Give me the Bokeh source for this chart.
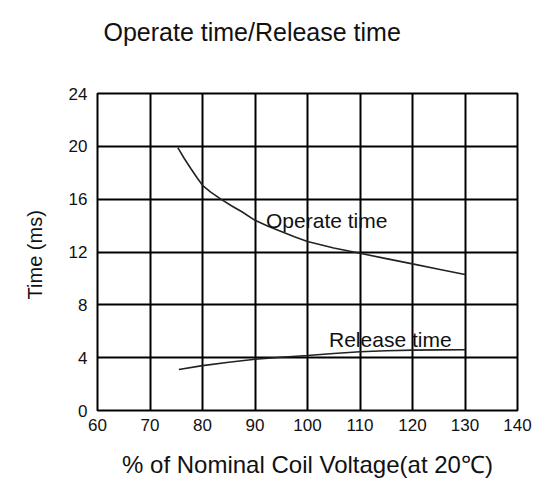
from bokeh.plotting import figure
from bokeh.embed import file_html
from bokeh.resources import INLINE
from bokeh.models import Range1d, FixedTicker, Label, Title

# ---- data ----
title_text = "Operate time/Release time"
x_label = "% of Nominal Coil Voltage(at 20\u2103)"
y_label = "Time  (ms)"
x_ticks = [60, 70, 80, 90, 100, 110, 120, 130, 140]
y_ticks = [0, 4, 8, 12, 16, 20, 24]

operate_x = [75.3, 76.5, 77.8, 79, 80, 81.5, 83.5, 85.5, 87.5, 90, 92.5, 95, 97.5,
             100, 105, 110, 115, 120, 125, 130]
operate_y = [19.9, 19.1, 18.3, 17.6, 17.05, 16.55, 16.0, 15.5, 15.05, 14.4, 13.95, 13.55, 13.15,
             12.8, 12.3, 11.9, 11.5, 11.1, 10.7, 10.3]

release_x = [75.5, 80, 85, 90, 95, 100, 105, 110, 115, 120, 125, 130]
release_y = [3.1, 3.4, 3.65, 3.88, 4.03, 4.16, 4.32, 4.45, 4.52, 4.57, 4.59, 4.6]

operate_label = ("Operate time", 92.1, 14.4)
release_label = ("Release time", 104.1, 5.37)

FONT = "Liberation Sans"
INK = "#111111"

p = figure(width=536, height=482, output_backend="svg", toolbar_location=None,
           x_range=Range1d(60, 140), y_range=Range1d(0, 24),
           min_border_left=97, min_border_right=19, min_border_top=93, min_border_bottom=72)

# real title (outermost)
p.title.text = title_text
p.title.text_font = FONT
p.title.text_font_size = "25px"
p.title.text_font_style = "normal"
p.title.text_color = INK
p.title.align = "left"
p.title.offset = 6
p.title.standoff = 20

# blank spacer title between the title and the frame
p.add_layout(Title(text=" ", text_font=FONT, text_font_size="25px", standoff=8), "above")

p.outline_line_color = "black"
p.outline_line_width = 2
p.outline_line_alpha = 1

for ax, ticks in ((p.xaxis, x_ticks), (p.yaxis, y_ticks)):
    ax.ticker = FixedTicker(ticks=ticks)
    ax.major_tick_out = 0
    ax.major_tick_in = 0
    ax.minor_tick_out = 0
    ax.minor_tick_in = 0
    ax.axis_line_color = None
    ax.major_label_text_font = FONT
    ax.major_label_text_font_size = "17px"
    ax.major_label_text_color = INK
    ax.axis_label_text_font = FONT
    ax.axis_label_text_font_style = "normal"
    ax.axis_label_text_color = INK

p.xaxis.major_label_standoff = 8
p.yaxis.major_label_standoff = 10
p.xaxis.axis_label = x_label
p.xaxis.axis_label_text_font_size = "24px"
p.xaxis.axis_label_standoff = 17
p.yaxis.axis_label = y_label
p.yaxis.axis_label_text_font_size = "20px"
p.yaxis.axis_label_standoff = 20

for g in (p.xgrid, p.ygrid):
    g.grid_line_color = "black"
    g.grid_line_width = 2
    g.grid_line_alpha = 1

p.line(operate_x, operate_y, line_color="#222222", line_width=1.6)
p.line(release_x, release_y, line_color="#222222", line_width=1.6)

for txt, lx, ly in (operate_label, release_label):
    p.add_layout(Label(x=lx, y=ly, text=txt, text_font=FONT,
                       text_font_size="21px", text_color=INK,
                       text_baseline="alphabetic", text_align="left"))

open("out.html", "w").write(file_html(p, INLINE))
